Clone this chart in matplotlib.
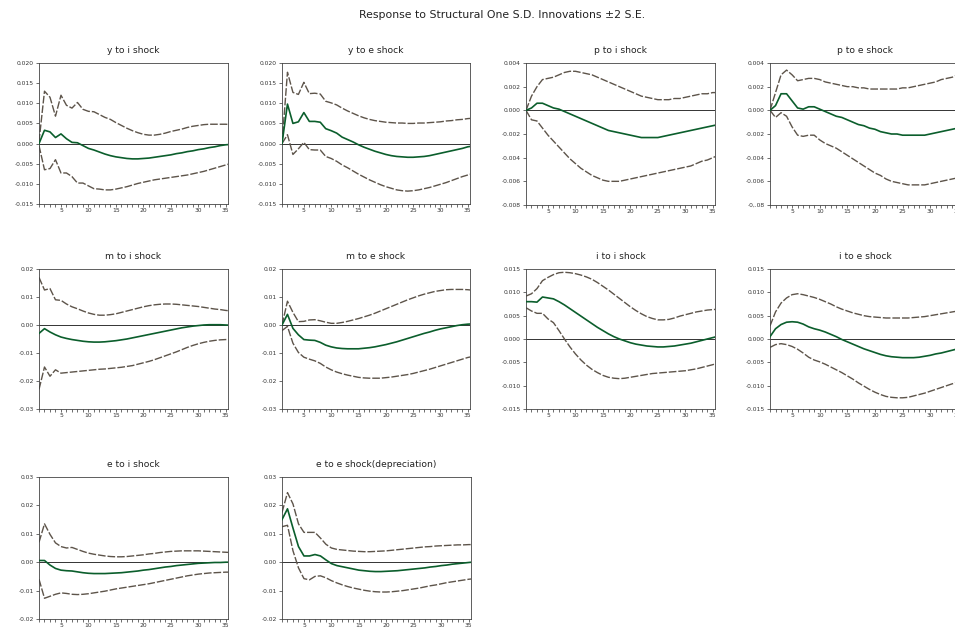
import matplotlib
matplotlib.use("Agg")
import matplotlib.pyplot as plt
from matplotlib.ticker import MultipleLocator

plt.rcParams["font.family"] = ["DejaVu Sans"]
plt.rcParams["axes.unicode_minus"] = False

periods = list(range(1, 37))

# y to i shock
y_i = [0, .0033, .0029, .0015, .0024, .0012, .0003, .0002, -.0005, -.0012, -.0016, -.0021, -.0026, -.003,
       -.0033, -.0035, -.0037, -.0038, -.0038, -.0037, -.0036, -.0034, -.0032, -.003, -.0028, -.0025,
       -.0023, -.002, -.0018, -.0015, -.0013, -.001, -.0008, -.0005, -.0003, -.0002]
y_i_hi = [.0005, .013, .0115, .0068, .012, .0095, .0088, .0102, .0085, .008, .0079, .0072, .0065, .006,
          .0052, .0045, .0038, .0032, .0027, .0023, .0021, .0021, .0023, .0026, .003, .0033, .0036, .004,
          .0043, .0045, .0047, .0048, .0048, .0048, .0048, .0047]
y_i_lo = [-.0005, -.0065, -.0062, -.004, -.0073, -.0073, -.0082, -.0098, -.0098, -.0105, -.0112, -.0113,
          -.0115, -.0115, -.0113, -.011, -.0107, -.0103, -.0099, -.0096, -.0093, -.009, -.0088, -.0086,
          -.0084, -.0082, -.008, -.0078, -.0075, -.0072, -.0069, -.0065, -.0061, -.0057, -.0053, -.0049]

# y to e shock
y_e = [0, .0098, .005, .0054, .0077, .0055, .0055, .0053, .0037, .0032, .0026, .0016, .001, .0004, -.0003,
       -.0009, -.0014, -.0019, -.0023, -.0027, -.003, -.0032, -.0033, -.0034, -.0034, -.0033, -.0032, -.003,
       -.0027, -.0024, -.0021, -.0018, -.0015, -.0012, -.0008, -.0006]
y_e_hi = [0, .0177, .0127, .0122, .0152, .0124, .0125, .0123, .0105, .0101, .0096, .0088, .0081, .0075,
          .0069, .0064, .006, .0057, .0055, .0053, .0052, .0051, .0051, .005, .005, .0051, .0051, .0052,
          .0053, .0054, .0056, .0057, .0059, .006, .0062, .0063]
y_e_lo = [0, .0022, -.0027, -.0013, .0003, -.0015, -.0016, -.0016, -.0032, -.0037, -.0044, -.0053, -.006,
          -.0068, -.0076, -.0083, -.009, -.0096, -.0102, -.0107, -.0111, -.0115, -.0117, -.0118, -.0117,
          -.0115, -.0112, -.0109, -.0105, -.0101, -.0097, -.0092, -.0087, -.0082, -.0078, -.0074]

# p to i shock
p_i = [0, .0002, .0006, .0006, .0004, .0002, .0001, -.0001, -.0003, -.0005, -.0007, -.0009, -.0011, -.0013,
       -.0015, -.0017, -.0018, -.0019, -.002, -.0021, -.0022, -.0023, -.0023, -.0023, -.0023, -.0022,
       -.0021, -.002, -.0019, -.0018, -.0017, -.0016, -.0015, -.0014, -.0013, -.0012]
p_i_hi = [0, .0012, .002, .0026, .0027, .0028, .003, .0032, .0033, .0033, .0032, .0031, .003, .0028, .0026,
          .0024, .0022, .002, .0018, .0016, .0014, .0012, .0011, .001, .0009, .0009, .0009, .001, .001,
          .0011, .0012, .0013, .0014, .0014, .0015, .0015]
p_i_lo = [0, -.0008, -.0009, -.0015, -.0021, -.0026, -.0031, -.0036, -.0041, -.0045, -.0049, -.0052, -.0055,
          -.0057, -.0059, -.006, -.006, -.006, -.0059, -.0058, -.0057, -.0056, -.0055, -.0054, -.0053,
          -.0052, -.0051, -.005, -.0049, -.0048, -.0047, -.0045, -.0043, -.0042, -.004, -.0038]

# p to e shock
p_e = [0, .0004, .0014, .0014, .0008, .0002, .0001, .0003, .0003, .0001, -.0001, -.0003, -.0005, -.0006,
       -.0008, -.001, -.0012, -.0013, -.0015, -.0016, -.0018, -.0019, -.002, -.002, -.0021, -.0021, -.0021,
       -.0021, -.0021, -.002, -.0019, -.0018, -.0017, -.0016, -.0015, -.0014]
p_e_hi = [0, .0015, .003, .0034, .003, .0025, .0026, .0027, .0027, .0026, .0024, .0023, .0022, .0021, .002,
          .002, .0019, .0019, .0018, .0018, .0018, .0018, .0018, .0018, .0019, .0019, .002, .0021, .0022,
          .0023, .0024, .0026, .0027, .0028, .003, .0031]
p_e_lo = [0, -.0006, -.0002, -.0005, -.0014, -.0021, -.0022, -.0021, -.0021, -.0025, -.0028, -.003, -.0032,
          -.0035, -.0038, -.0041, -.0044, -.0047, -.005, -.0053, -.0055, -.0058, -.006, -.0061, -.0062,
          -.0063, -.0063, -.0063, -.0063, -.0062, -.0061, -.006, -.0059, -.0058, -.0057, -.0056]

# m to i shock
m_i = [-.003, -.0013, -.0025, -.0035, -.0043, -.0048, -.0052, -.0055, -.0058, -.006, -.0061, -.0061, -.006,
       -.0058, -.0056, -.0053, -.005, -.0046, -.0042, -.0038, -.0034, -.003, -.0026, -.0022, -.0018,
       -.0014, -.001, -.0007, -.0004, -.0002, 0, .0001, .0001, .0001, 0, -.0001]
m_i_hi = [.017, .0125, .013, .009, .0088, .0075, .0065, .0058, .005, .0043, .0038, .0035, .0035, .0037, .004,
          .0045, .005, .0055, .006, .0065, .0069, .0072, .0074, .0075, .0075, .0074, .0072, .007, .0068,
          .0066, .0063, .006, .0057, .0055, .0052, .005]
m_i_lo = [-.023, -.015, -.0183, -.016, -.0172, -.017, -.0168, -.0166, -.0164, -.0162, -.016, -.0158, -.0157,
          -.0155, -.0153, -.0151, -.0148, -.0145, -.014, -.0135, -.013, -.0124, -.0117, -.011, -.0103,
          -.0096, -.0088, -.008, -.0073, -.0067, -.0062, -.0058, -.0055, -.0053, -.0052, -.0051]

# m to e shock
m_e = [0, .0038, -.0012, -.0035, -.0052, -.0054, -.0055, -.0062, -.0072, -.0078, -.0082, -.0084, -.0085,
       -.0085, -.0085, -.0083, -.0081, -.0078, -.0074, -.007, -.0065, -.006, -.0054, -.0048, -.0042, -.0036,
       -.003, -.0025, -.0019, -.0014, -.001, -.0006, -.0002, .0001, .0003, .0004]
m_e_hi = [0, .0085, .0045, .0012, .0013, .0018, .0019, .0015, .001, .0006, .0006, .0009, .0013, .0018, .0023,
          .0029, .0035, .0042, .005, .0058, .0066, .0074, .0082, .009, .0097, .0104, .011, .0115, .012,
          .0123, .0126, .0127, .0127, .0127, .0126, .0124]
m_e_lo = [-.002, -.0005, -.0065, -.0098, -.0115, -.0122, -.0128, -.0137, -.015, -.016, -.0168, -.0174,
          -.0179, -.0183, -.0187, -.0189, -.019, -.019, -.019, -.0188, -.0186, -.0183, -.018, -.0177, -.0173,
          -.0168, -.0163, -.0158, -.0152, -.0146, -.014, -.0134, -.0128, -.0122, -.0116, -.0112]

# i to i shock
i_i = [.008, .008, .0079, .009, .0088, .0086, .008, .0073, .0065, .0057, .0049, .0041, .0033, .0025, .0018,
       .0011, .0005, 0, -.0004, -.0008, -.0011, -.0013, -.0015, -.0016, -.0017, -.0017, -.0016, -.0015,
       -.0013, -.0011, -.0009, -.0006, -.0003, 0, .0003, .0006]
i_i_hi = [.0092, .0097, .0108, .0125, .0132, .0138, .0142, .0143, .0142, .014, .0137, .0133, .0128, .0121,
          .0113, .0105, .0096, .0087, .0078, .0069, .0061, .0054, .0048, .0044, .0041, .0041, .0042, .0045,
          .0049, .0052, .0055, .0058, .006, .0062, .0063, .0064]
i_i_lo = [.0067, .006, .0055, .0055, .0043, .0035, .0018, 0, -.0017, -.0032, -.0045, -.0056, -.0065, -.0072,
          -.0078, -.0082, -.0084, -.0085, -.0084, -.0082, -.008, -.0078, -.0076, -.0074, -.0073, -.0072,
          -.0071, -.007, -.0069, -.0068, -.0066, -.0064, -.0061, -.0058, -.0055, -.0051]

# i to e shock
i_e = [.0005, .0022, .0031, .0036, .0037, .0036, .0032, .0026, .0022, .0019, .0015, .001, .0005, -.0001,
       -.0006, -.0011, -.0016, -.0021, -.0025, -.0029, -.0033, -.0036, -.0038, -.0039, -.004, -.004, -.004,
       -.0039, -.0037, -.0035, -.0032, -.003, -.0027, -.0024, -.0021, -.0018]
i_e_hi = [.0028, .0058, .0077, .0088, .0095, .0097, .0095, .0092, .0089, .0085, .008, .0075, .0069, .0064,
          .006, .0056, .0053, .005, .0048, .0047, .0046, .0045, .0045, .0045, .0045, .0045, .0046, .0047,
          .0048, .005, .0052, .0054, .0056, .0058, .006, .0062]
i_e_lo = [-.0018, -.0012, -.001, -.0012, -.0016, -.0022, -.003, -.0039, -.0045, -.0049, -.0054, -.006,
          -.0066, -.0072, -.0079, -.0086, -.0094, -.0101, -.0108, -.0114, -.0119, -.0123, -.0125, -.0126,
          -.0126, -.0125, -.0122, -.0119, -.0116, -.0112, -.0108, -.0104, -.01, -.0096, -.0092, -.0088]

# e to i shock
e_i = [.0006, .0006, -.001, -.0022, -.0028, -.003, -.0031, -.0034, -.0037, -.0039, -.004, -.004, -.004,
       -.0039, -.0038, -.0037, -.0035, -.0033, -.0031, -.0028, -.0026, -.0023, -.002, -.0017, -.0015,
       -.0012, -.001, -.0008, -.0006, -.0004, -.0003, -.0002, -.0001, -.0001, 0, 0]
e_i_hi = [.007, .0135, .0098, .0068, .0055, .005, .0052, .0045, .0038, .0032, .0028, .0025, .0022, .002,
          .0019, .0019, .002, .0022, .0024, .0026, .0029, .0031, .0034, .0036, .0038, .0039, .004, .004, .004,
          .004, .0039, .0038, .0037, .0036, .0035, .0034]
e_i_lo = [-.006, -.0127, -.012, -.0113, -.0108, -.011, -.0113, -.0114, -.0113, -.0111, -.0108, -.0105,
          -.0102, -.0098, -.0094, -.0091, -.0088, -.0085, -.0082, -.0079, -.0076, -.0072, -.0068, -.0064,
          -.006, -.0056, -.0052, -.0048, -.0045, -.0042, -.004, -.0038, -.0037, -.0036, -.0035, -.0035]

# e to e shock (depreciation)
e_e = [.015, .0188, .012, .0055, .0022, .0022, .0027, .0022, .0008, -.0005, -.0012, -.0016, -.002, -.0024,
       -.0028, -.003, -.0032, -.0033, -.0033, -.0032, -.0031, -.003, -.0028, -.0026, -.0024, -.0022, -.002,
       -.0017, -.0015, -.0012, -.001, -.0007, -.0005, -.0003, -.0001, .0001]
e_e_hi = [.0175, .0245, .0205, .0135, .0105, .0105, .0105, .0085, .0063, .005, .0045, .0043, .0041, .0039,
          .0038, .0037, .0037, .0038, .0039, .004, .0042, .0044, .0046, .0048, .005, .0052, .0054, .0055,
          .0057, .0058, .0059, .006, .0061, .0061, .0062, .0062]
e_e_lo = [.0125, .013, .004, -.002, -.0058, -.0062, -.005, -.0048, -.0055, -.0065, -.0073, -.008, -.0086,
          -.0091, -.0095, -.0099, -.0102, -.0104, -.0105, -.0105, -.0104, -.0102, -.01, -.0097, -.0094,
          -.0091, -.0087, -.0083, -.008, -.0076, -.0072, -.0069, -.0066, -.0063, -.006, -.0058]

titles = ["y to i shock", "y to e shock", "p to i shock", "p to e shock",
          "m to i shock", "m to e shock", "i to i shock", "i to e shock",
          "e to i shock", "e to e shock(depreciation)"]
responses = [(y_i, y_i_hi, y_i_lo), (y_e, y_e_hi, y_e_lo), (p_i, p_i_hi, p_i_lo), (p_e, p_e_hi, p_e_lo),
             (m_i, m_i_hi, m_i_lo), (m_e, m_e_hi, m_e_lo), (i_i, i_i_hi, i_i_lo), (i_e, i_e_hi, i_e_lo),
             (e_i, e_i_hi, e_i_lo), (e_e, e_e_hi, e_e_lo)]

ticks_y = [-.015, -.010, -.005, 0, .005, .010, .015, .020]
lab_y = ["-0.015", "-0.010", "-0.005", "0.000", "0.005", "0.010", "0.015", "0.020"]
ticks_p = [-.008, -.006, -.004, -.002, 0, .002, .004]
lab_p_i = ["-0.008", "-0.006", "-0.004", "-0.002", "0.000", "0.002", "0.004"]
lab_p_e = ["-0,.08", "-0.006", "-0.004", "-0.002", "0.000", "0.002", "0.004"]
ticks_m = [-.03, -.02, -.01, 0, .01, .02]
lab_m = ["-0.03", "-0.02", "-0.01", "0.00", "0.01", "0.02"]
ticks_i = [-.015, -.010, -.005, 0, .005, .010, .015]
lab_i = ["-0.015", "-0.010", "-0.005", "0.000", "0.005", "0.010", "0.015"]
ticks_e = [-.02, -.01, 0, .01, .02, .03]
lab_e = ["-0.02", "-0.01", "0.00", "0.01", "0.02", "0.03"]
yticks = [(ticks_y, lab_y), (ticks_y, lab_y), (ticks_p, lab_p_i), (ticks_p, lab_p_e),
          (ticks_m, lab_m), (ticks_m, lab_m), (ticks_i, lab_i), (ticks_i, lab_i),
          (ticks_e, lab_e), (ticks_e, lab_e)]

W, H = 955, 628
# panel boxes in pixels: left, top, right, bottom
boxes = [(39, 63, 228, 204), (282, 63, 470, 204), (526, 63, 715, 205), (770, 63, 960, 205),
         (39, 269, 228, 409), (282, 269, 470, 409), (526, 269, 715, 409), (770, 269, 960, 409),
         (39, 477, 228, 619), (282, 477, 471, 619)]

fig = plt.figure(figsize=(W / 100, H / 100), dpi=100)
fig.text(502 / W, 1 - 15 / H, "Response to Structural One S.D. Innovations \u00b12 S.E.",
         ha="center", va="center", fontsize=7.8, color="#222222")

for k in range(10):
    l, t, r, b = boxes[k]
    ax = fig.add_axes([l / W, 1 - b / H, (r - l) / W, (b - t) / H])
    mid, hi, lo = responses[k]
    ax.axhline(0, color="#333333", lw=0.7, zorder=1)
    ax.plot(periods, hi, color="#5d544a", lw=1.0, dashes=(5.5, 1.4), zorder=2)
    ax.plot(periods, lo, color="#5d544a", lw=1.0, dashes=(5.5, 1.4), zorder=2)
    ax.plot(periods, mid, color="#0b5e2c", lw=1.2, zorder=3)
    ax.set_xlim(1, 35.4)
    tk, lb = yticks[k]
    ax.set_ylim(tk[0], tk[-1])
    ax.set_yticks(tk)
    ax.set_yticklabels(lb)
    ax.xaxis.set_major_locator(MultipleLocator(5))
    ax.xaxis.set_minor_locator(MultipleLocator(1))
    ax.tick_params(axis="both", which="both", direction="out", labelsize=4.3, colors="#333333",
                   width=0.5, length=2.2, pad=1.5)
    ax.tick_params(axis="x", which="major", pad=0.5)
    for s in ax.spines.values():
        s.set_linewidth(0.6)
        s.set_color("#444444")
    ax.set_title(titles[k], fontsize=6.6, color="#222222", pad=7)

fig.savefig("out.png", dpi=100)
